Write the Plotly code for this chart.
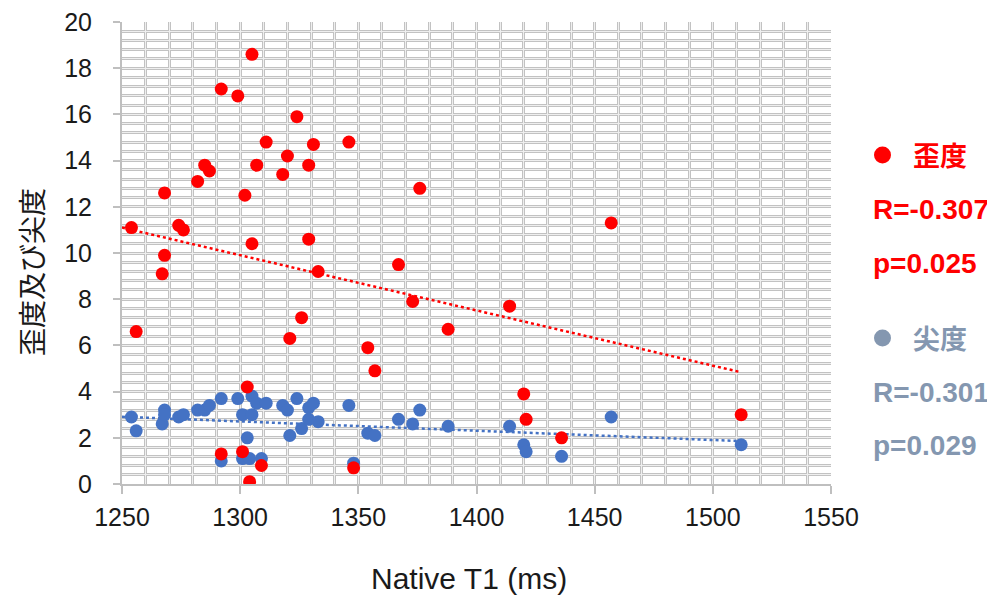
import plotly.graph_objects as go

# 歪度 (skewness)
skew_x = [1254, 1256, 1267, 1268, 1268, 1274, 1276, 1282, 1285, 1287, 1292, 1292, 1299, 1301, 1302,
          1303, 1304, 1305, 1305, 1307, 1309, 1311, 1318, 1320, 1321, 1324, 1326, 1329, 1329, 1331,
          1333, 1346, 1348, 1354, 1357, 1367, 1373, 1376, 1388, 1414, 1420, 1421, 1436, 1457, 1512]
skew_y = [11.1, 6.6, 9.1, 9.9, 12.6, 11.2, 11.0, 13.1, 13.8, 13.55, 17.1, 1.3, 16.8, 1.4, 12.5,
          4.2, 0.1, 18.6, 10.4, 13.8, 0.8, 14.8, 13.4, 14.2, 6.3, 15.9, 7.2, 13.8, 10.6, 14.7,
          9.2, 14.8, 0.7, 5.9, 4.9, 9.5, 7.9, 12.8, 6.7, 7.7, 3.9, 2.8, 2.0, 11.3, 3.0]

# 尖度 (kurtosis)
kurt_x = [1254, 1256, 1267, 1268, 1268, 1274, 1276, 1282, 1285, 1287, 1292, 1292, 1299, 1301, 1301,
          1303, 1304, 1305, 1305, 1307, 1309, 1311, 1318, 1320, 1321, 1324, 1326, 1329, 1329, 1331,
          1333, 1346, 1348, 1354, 1357, 1367, 1373, 1376, 1388, 1414, 1420, 1421, 1436, 1457, 1512]
kurt_y = [2.9, 2.3, 2.6, 3.2, 3.0, 2.9, 3.0, 3.2, 3.2, 3.4, 3.7, 1.0, 3.7, 3.0, 1.1,
          2.0, 1.1, 3.0, 3.8, 3.5, 1.1, 3.5, 3.4, 3.2, 2.1, 3.7, 2.4, 3.3, 2.8, 3.5,
          2.7, 3.4, 0.9, 2.2, 2.1, 2.8, 2.6, 3.2, 2.5, 2.5, 1.7, 1.4, 1.2, 2.9, 1.7]

# linear trend lines (end points)
trend_x = [1250, 1511]
skew_trend_y = [11.1, 4.86]
kurt_trend_y = [2.91, 1.86]

legend_skew = ["歪度", "R=-0.307", "p=0.025"]
legend_kurt = ["尖度", "R=-0.301", "p=0.029"]
x_title = "Native T1 (ms)"
y_title = "歪度及び尖度"

RED = "#FF0000"
BLUE = "#4472C4"
GREYBLUE = "#8497B0"

x_range = [1250, 1550]
y_range = [0, 20]

fig = go.Figure()

fig.add_trace(go.Scatter(x=trend_x, y=skew_trend_y, mode="lines",
                         line=dict(color=RED, width=2.5, dash="dot"), showlegend=False))
fig.add_trace(go.Scatter(x=trend_x, y=kurt_trend_y, mode="lines",
                         line=dict(color=BLUE, width=2.5, dash="dot"), showlegend=False))
fig.add_trace(go.Scatter(x=kurt_x, y=kurt_y, mode="markers",
                         marker=dict(color=BLUE, size=13, line=dict(width=0)), showlegend=False))
fig.add_trace(go.Scatter(x=skew_x, y=skew_y, mode="markers",
                         marker=dict(color=RED, size=13, line=dict(width=0)), showlegend=False))
# empty trace so the overlay axes (light inner grid lines) exist
fig.add_trace(go.Scatter(x=[], y=[], xaxis="x2", yaxis="y2", showlegend=False, hoverinfo="skip"))

grid_dark = "#c2c2c2"
grid_light = "#efefef"
tickfont = dict(family="Liberation Sans, Arial", size=25, color="#1a1a1a")

# plot area on screen: x 122..831, y 22..484 (page body has an 8px margin)
fig.update_layout(
    width=987, height=587,
    margin=dict(l=114, r=164, t=14, b=111, autoexpand=False),
    paper_bgcolor="white", plot_bgcolor="white",
    xaxis=dict(range=x_range, dtick=50, tick0=1250, showgrid=True, gridcolor=grid_dark, gridwidth=3,
               minor=dict(dtick=10, showgrid=True, gridcolor=grid_dark, gridwidth=3),
               showline=True, linecolor="#bfbfbf", linewidth=2,
               ticks="outside", ticklen=8, tickwidth=2, tickcolor="#bfbfbf",
               tickfont=tickfont, ticklabelstandoff=2, ticklabeloverflow="allow", zeroline=False),
    yaxis=dict(range=y_range, dtick=2, tick0=0, showgrid=True, gridcolor=grid_dark, gridwidth=3,
               minor=dict(dtick=0.4, showgrid=True, gridcolor=grid_dark, gridwidth=3),
               showline=True, linecolor="#bfbfbf", linewidth=2,
               ticks="outside", ticklen=7, tickwidth=2, tickcolor="#bfbfbf",
               tickfont=tickfont, ticklabelstandoff=16, ticklabeloverflow="allow", zeroline=False),
    xaxis2=dict(range=x_range, overlaying="x", dtick=10, tick0=1250, showgrid=True, gridcolor=grid_light,
                gridwidth=1, showticklabels=False, zeroline=False, showline=False, ticks=""),
    yaxis2=dict(range=y_range, overlaying="y", dtick=0.4, tick0=0, showgrid=True, gridcolor=grid_light,
                gridwidth=1, showticklabels=False, zeroline=False, showline=False, ticks=""),
)


def px(sx):
    return (sx - 122) / 709


def py(sy):
    return (484 - sy) / 462


# axis titles
fig.add_annotation(text=x_title, xref="paper", yref="paper", x=px(469), y=py(578),
                   xanchor="center", yanchor="middle", showarrow=False,
                   font=dict(family="Liberation Sans, Arial", size=30, color="#1a1a1a"))
fig.add_annotation(text=y_title, xref="paper", yref="paper", x=px(31), y=py(272), textangle=-90,
                   xanchor="center", yanchor="middle", showarrow=False,
                   font=dict(family="Noto Sans CJK JP", size=28, color="#1a1a1a"))

# custom legend on the right
bold_font = "Liberation Sans, Arial"
entries = [(legend_skew, RED, [155, 209, 263]), (legend_kurt, GREYBLUE, [338, 392, 445])]
for texts, col, ys in entries:
    fig.add_shape(type="circle", xref="paper", yref="paper",
                  x0=px(874), x1=px(891), y0=py(ys[0] + 8.5), y1=py(ys[0] - 8.5),
                  fillcolor=col, line=dict(width=0))
    fig.add_annotation(text=f"<b>{texts[0]}</b>", xref="paper", yref="paper",
                       x=px(911), y=py(ys[0]), xanchor="left", yanchor="middle",
                       showarrow=False, font=dict(family="Noto Sans CJK JP", size=27, color=col))
    for t, yy in zip(texts[1:], ys[1:]):
        fig.add_annotation(text=f"<b>{t}</b>", xref="paper", yref="paper",
                           x=px(871), y=py(yy), xanchor="left", yanchor="middle",
                           showarrow=False, font=dict(family=bold_font, size=28, color=col))

fig.write_html("out.html")
